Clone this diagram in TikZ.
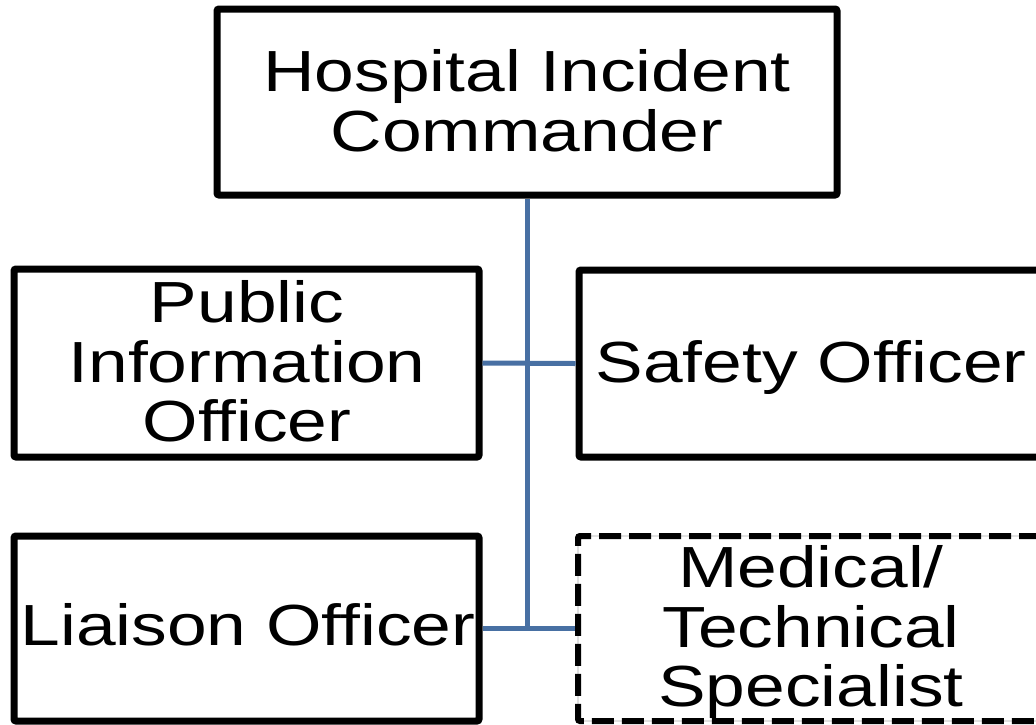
\documentclass[tikz,border=0pt]{standalone}
\usepackage{fontspec}
\setmainfont[FakeStretch=1.23]{Liberation Sans}
\definecolor{linkblue}{RGB}{72,112,163}
\begin{document}
\begin{tikzpicture}[x=1pt,y=-1pt,
  box/.style={draw, line width=7pt, rounded corners=2pt, inner sep=0pt,
    minimum width=465pt},
  dashbox/.style={line width=6pt, rounded corners=2pt, inner sep=0pt,
    minimum width=465pt,
    draw=black, dash pattern=on 22pt off 8pt,
    preaction={draw=gray!70, line width=0.8pt, solid}},
  lbl/.style={inner sep=0pt, anchor=base,
    font=\fontsize{58}{60}\selectfont},
  conn/.style={draw=linkblue, line width=5pt}]
\clip (0,0) rectangle (1036,724);
\useasboundingbox (0,0) rectangle (1036,724);

% boxes
\node[box, minimum width=620pt, minimum height=186pt] (hic) at (527,102) {};
\node[box, minimum height=188pt] (pio) at (246.5,363) {};
\node[box, minimum height=187pt] (saf) at (811.5,363.5) {};
\node[box, minimum height=185pt] (lia) at (246.5,628.5) {};
\node[dashbox, minimum height=185pt] (med) at (810.5,628.5) {};

% connectors
\draw[conn] (hic.south) -- (hic.south |- lia.east) coordinate (jn);
\draw[conn] (pio.east) -- (saf.west);
\draw[conn] (lia.east) -- (med.west);

% labels
\node[lbl] (hic1) at (527,91) {Hospital Incident};
\node[lbl] (hic2) at (527,151) {Commander};
\node[lbl] (pio1) at (247,322) {Public};
\node[lbl] (pio2) at (247,382) {Information};
\node[lbl] (pio3) at (247,441) {Officer};
\node[lbl] (saf1) at (811,382) {Safety Officer};
\node[lbl] (lia1) at (248,645) {Liaison Officer};
\node[lbl] (med1) at (811,587) {Medical/};
\node[lbl] (med2) at (811,647) {Technical};
\node[lbl] (med3) at (811,706) {Specialist};
\end{tikzpicture}
\end{document}
